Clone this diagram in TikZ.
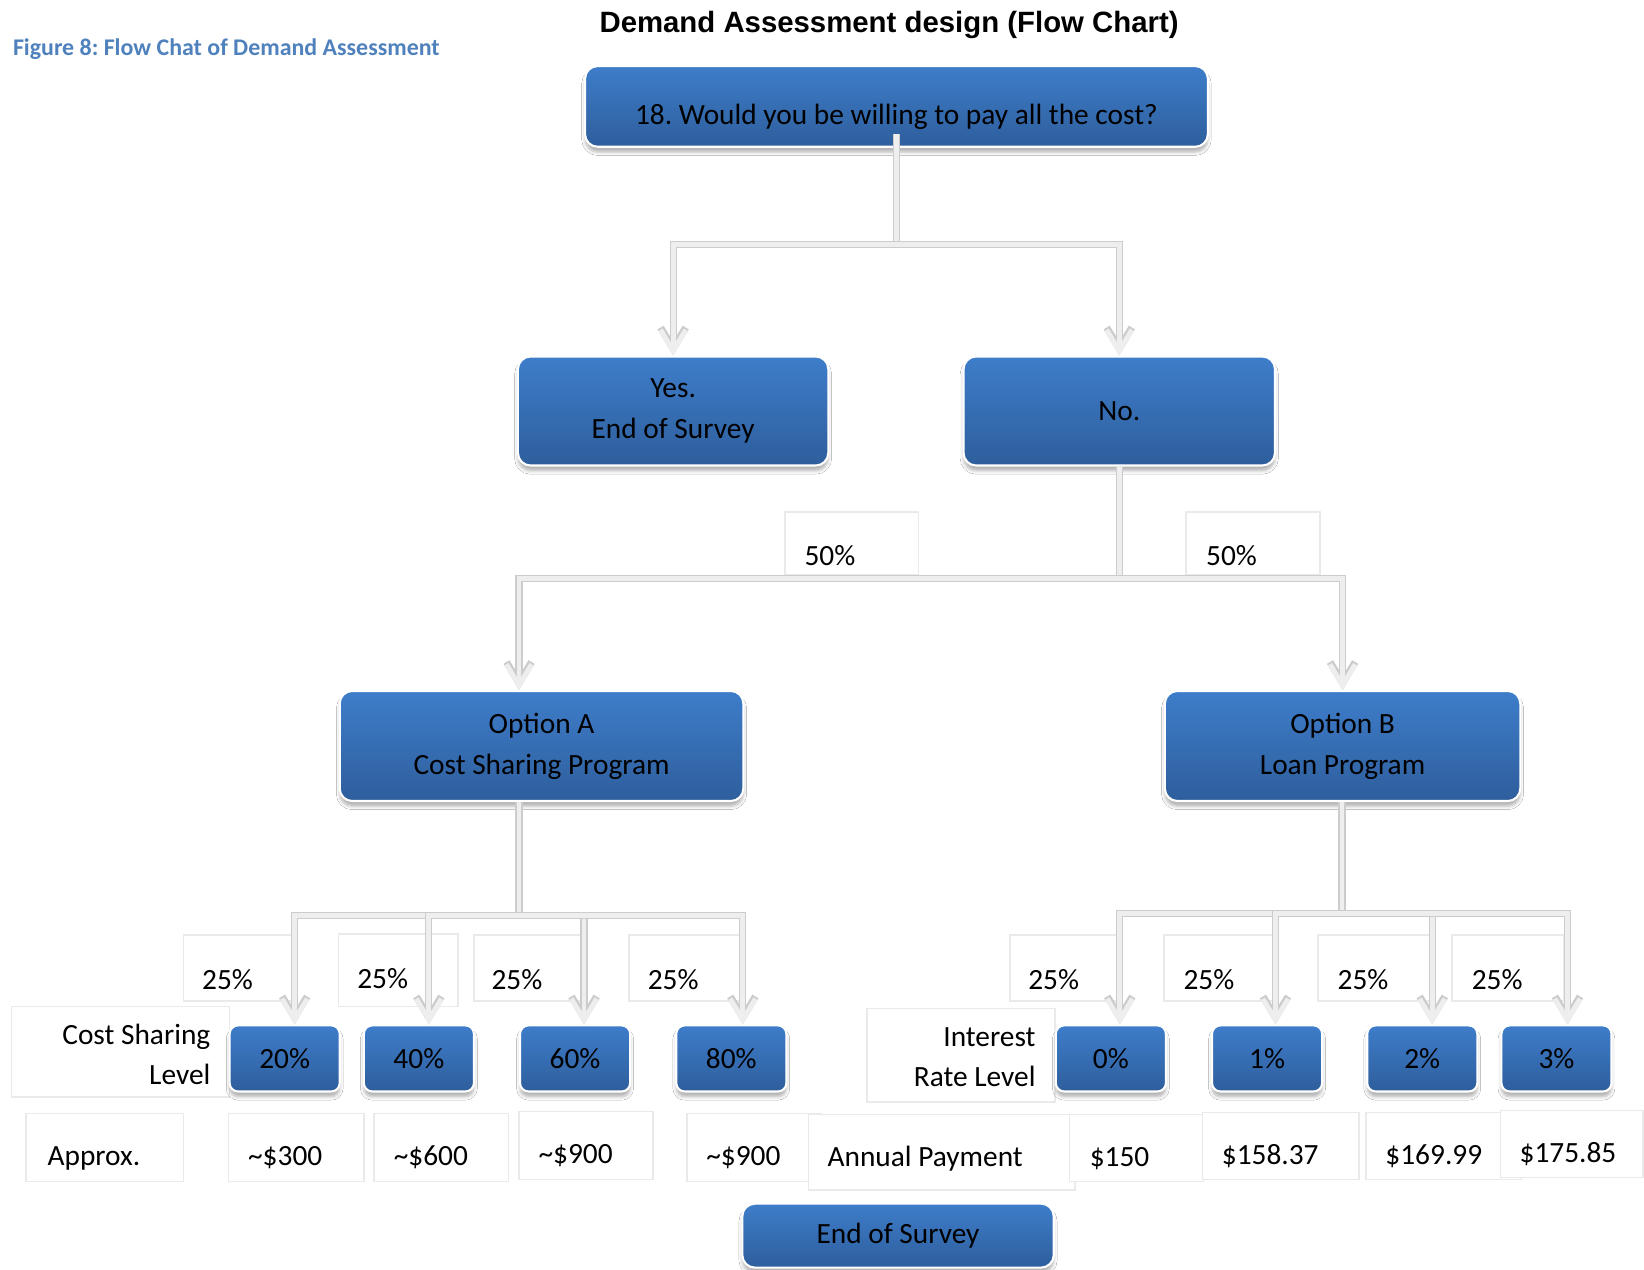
\documentclass[tikz,border=0pt]{standalone}
\usepackage{fontspec}
\setmainfont{Carlito}
\newfontfamily\titlefont{Liberation Sans}
\usetikzlibrary{arrows.meta,fit,shadows.blur}
\definecolor{boxtop}{HTML}{3E7DCA}
\definecolor{boxbot}{HTML}{2E5E9C}
\definecolor{capblue}{HTML}{4F81BD}
\definecolor{connfill}{HTML}{EEEEEE}
\definecolor{connedge}{HTML}{CCCCCC}
\definecolor{lboxline}{HTML}{EAEAEA}
\begin{document}
\frenchspacing
\begin{tikzpicture}[x=0.5pt,y=-0.5pt,
  bbox/.style={rounded corners=6pt, top color=boxtop, bottom color=boxbot, draw=white, line width=1pt, inner sep=0pt, align=center, font=\fontsize{14}{19.5}\selectfont, blur shadow={shadow xshift=0pt, shadow yshift=-2.5pt, shadow blur radius=1.6pt, shadow opacity=30}},
  sbox/.style={bbox, rounded corners=4pt, minimum width=52.5pt, minimum height=31.5pt},
  lbox/.style={draw=lboxline, line width=0.8pt, fill=white, inner sep=0pt},
  txt/.style={font=\fontsize{14}{19}\selectfont, inner sep=0pt},
  conn/.style={draw=connfill, line width=2.3pt, preaction={draw=connedge, line width=3.4pt}},
  arr/.style={conn, -{Straight Barb[length=10pt,width=12pt]}},
]
\useasboundingbox[fill=white] (0,0) rectangle (1568,1211);

% titles
\node[font=\titlefont\bfseries\fontsize{14}{17}\selectfont, inner sep=0pt] (title) at (848,24) {Demand Assessment design (Flow Chart)};
\node[anchor=west, text=capblue, font=\bfseries\fontsize{11.4}{14}\selectfont, inner sep=0pt] (cap) at (12,47) {Figure 8: Flow Chat of Demand Assessment};

% label boxes
\node[lbox, fit={(749,488)(876,548)}] (l50a) {};
\node[lbox, fit={(1131,488)(1259,548)}] (l50b) {};
\node[txt, anchor=west] (t50a) at (767,530) {50\%};
\node[txt, anchor=west] (t50b) at (1150,530) {50\%};

\node[lbox, fit={(175,892)(281,955)}] (q1) {};
\node[lbox, fit={(323,891)(437,960)}] (q2) {};
\node[lbox, fit={(452,892)(557,955)}] (q3) {};
\node[lbox, fit={(600,892)(709,955)}] (q4) {};
\node[txt] (tq1) at (217,934) {25\%};
\node[txt] (tq2) at (365,933) {25\%};
\node[txt] (tq3) at (493,934) {25\%};
\node[txt] (tq4) at (642,934) {25\%};

\node[lbox, fit={(963,892)(1066,955)}] (r1) {};
\node[lbox, fit={(1110,892)(1215,955)}] (r2) {};
\node[lbox, fit={(1257,892)(1364,955)}] (r3) {};
\node[lbox, fit={(1385,892)(1492,955)}] (r4) {};
\node[txt] (tr1) at (1005,934) {25\%};
\node[txt] (tr2) at (1153,934) {25\%};
\node[txt] (tr3) at (1300,934) {25\%};
\node[txt] (tr4) at (1428,934) {25\%};

\node[lbox, fit={(11,960)(219,1046)}] (csl) {};
\node[txt, align=right, anchor=east] (tcsl) at (201,1006) {Cost Sharing\\Level};
\node[lbox, fit={(827,962)(1006,1051)}] (irl) {};
\node[txt, align=right, anchor=east] (tirl) at (988,1008) {Interest\\Rate Level};

\node[lbox, fit={(25,1062)(175,1127)}] (a0) {};
\node[lbox, fit={(218,1062)(347,1127)}] (a1) {};
\node[lbox, fit={(357,1062)(485,1127)}] (a2) {};
\node[lbox, fit={(495,1060)(623,1125)}] (a3) {};
\node[lbox, fit={(655,1062)(783,1127)}] (a4) {};
\node[lbox, fit={(771,1063)(1025,1135)}] (ap) {};
\node[lbox, fit={(1020,1063)(1148,1127)}] (p1) {};
\node[lbox, fit={(1147,1061)(1296,1125)}] (p2) {};
\node[lbox, fit={(1303,1061)(1451,1125)}] (p3) {};
\node[lbox, fit={(1431,1059)(1567,1123)}] (p4) {};
\node[txt, anchor=west] (ta0) at (45,1105) {Approx.};
\node[txt] (ta1) at (272,1104) {\textasciitilde\$300};
\node[txt] (ta2) at (411,1104) {\textasciitilde\$600};
\node[txt] (ta3) at (549,1102) {\textasciitilde\$900};
\node[txt] (ta4) at (709,1104) {\textasciitilde\$900};
\node[txt, anchor=west] (tap) at (789,1105) {Annual Payment};
\node[txt, anchor=west] (tp1) at (1039,1105) {\$150};
\node[txt, anchor=west] (tp2) at (1165,1103) {\$158.37};
\node[txt, anchor=west] (tp3) at (1321,1103) {\$169.99};
\node[txt, anchor=west] (tp4) at (1449,1101) {\$175.85};

% blue boxes
\node[bbox, minimum width=297pt, minimum height=38.5pt] (top) at (855,101.5) {\raisebox{-8.6pt}[0pt][0pt]{18. Would you be willing to pay all the cost?}};
\node[bbox, minimum width=148pt, minimum height=52pt] (yes) at (642,392) {Yes.\\End of Survey};
\node[bbox, minimum width=148.5pt, minimum height=52pt] (no) at (1067.5,392) {No.};
\node[bbox, minimum width=192.5pt, minimum height=52.5pt] (optA) at (516.5,711.5) {Option A\\Cost Sharing Program};
\node[bbox, minimum width=169.5pt, minimum height=52.5pt] (optB) at (1280.5,711.5) {Option B\\Loan Program};
\node[sbox] (b20) at (271.5,1009.5) {20\%};
\node[sbox] (b40) at (399.5,1009.5) {40\%};
\node[sbox] (b60) at (548.5,1009.5) {60\%};
\node[sbox] (b80) at (697.5,1009.5) {80\%};
\node[sbox] (b0) at (1059.5,1009.5) {0\%};
\node[sbox] (b1) at (1208.5,1009.5) {1\%};
\node[sbox] (b2) at (1356.5,1009.5) {2\%};
\node[sbox] (b3) at (1484.5,1009.5) {3\%};
\node[bbox, minimum width=148.5pt, minimum height=30.5pt] (endS) at (856.5,1178.5) {End of Survey};

% connectors
\coordinate (j1) at (855,233);
\draw[conn] ([yshift=6.5pt]top.south) -- (top.south |- j1);
\draw[arr] (j1) -| (yes.north);
\draw[arr] (j1) -| (no.north);

\coordinate (j2) at (1068,552);
\draw[conn] (no.south) -- (no.south |- j2);
\draw[arr] (no.south |- j2) -| ([xshift=-10.75pt]optA.north);
\draw[arr] (no.south |- j2) -| (optB.north);

\coordinate (j3) at (495,873);
\draw[conn] (optA.south -| j3) -- (j3);
\draw[arr] (j3) -| ([xshift=4.75pt]b20.north);
\draw[arr] (j3) -| ([xshift=4.75pt]b40.north);
\draw[arr] (j3) -| ([xshift=4.25pt]b60.north);
\draw[arr] (j3) -| ([xshift=5.5pt]b80.north);

\coordinate (j4) at (1280,871);
\draw[conn] (optB.south -| j4) -- (j4);
\draw[arr] (j4) -| ([xshift=4.25pt]b0.north);
\draw[arr] (j4) -| ([xshift=4pt]b1.north);
\draw[arr] (j4) -| ([xshift=4.75pt]b2.north);
\draw[arr] (j4) -| ([xshift=5.25pt]b3.north);
\end{tikzpicture}
\end{document}
